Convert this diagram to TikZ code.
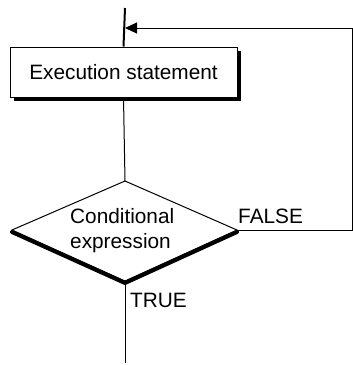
\documentclass[tikz,border=0pt]{standalone}
\usepackage{fontspec}
\setmainfont{Liberation Sans}
\usetikzlibrary{arrows.meta}
\tikzset{
  thin line/.style={line width=1pt},
  txt/.style={font=\fontsize{20.8}{25}\selectfont, inner sep=0pt},
  stmt/.style={draw, fill=white, line width=1pt, minimum width=227pt, minimum height=50pt, inner sep=0pt, txt},
  thickedge/.style={line width=4pt, line cap=round, line join=round},
  head/.style={-{Triangle[length=12pt,width=11pt]}}
}
\begin{document}
\begin{tikzpicture}[x=1pt,y=-1pt]
\useasboundingbox (0,0) rectangle (353,365);
\coordinate (top) at (125,8);
\coordinate (join) at (125,28);
\coordinate (rt) at (352,28);
\coordinate (rb) at (352,230);
\coordinate (end) at (125,363);
% diamond vertices
\coordinate (dN) at (125,181);
\coordinate (dW) at (12,230);
\coordinate (dS) at (125,281);
\coordinate (dE) at (237,230);
% statement box with shadow
\fill (14,51) rectangle (241,101);
\node[stmt] (box) at (123.5,72) {Execution statement};
% diamond
\draw[thin line, line join=miter] (dN) -- (dE) -- (dS) -- (dW) -- cycle;
\draw[thickedge] ([yshift=-2pt]dW) -- ([yshift=-2pt]dS) -- ([yshift=-2pt]dE);
\node[txt, align=left, anchor=west] (c) at (70,231) {Conditional\\expression};
% connectors
\draw[line width=2pt] (top) -- (box.north);
\draw[thin line] (box.south) -- (dN);
\draw[thin line] (dS) -- (end);
\draw[thin line] (dE) -- (rb) -- (rt);
\draw[thin line, head] (rt) -- (join);
% labels
\node[txt, anchor=west] (f) at (238,216) {FALSE};
\node[txt, anchor=west] (t) at (130,300) {TRUE};
\end{tikzpicture}
\end{document}
